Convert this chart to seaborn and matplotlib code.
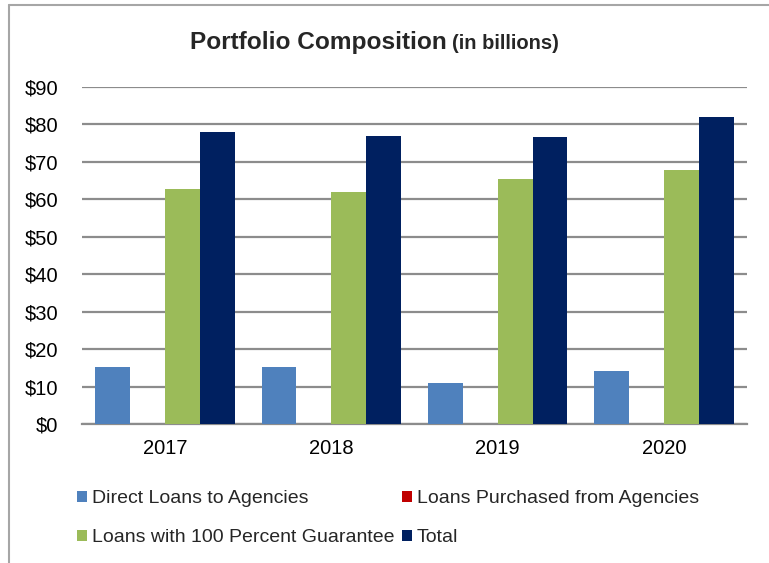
import pandas as pd
import seaborn as sns
import matplotlib.pyplot as plt
from matplotlib.lines import Line2D

years = ['2017', '2018', '2019', '2020']
direct_loans = [15.3, 15.3, 11.0, 14.2]
purchased_loans = [0.0, 0.0, 0.0, 0.0]
guarantee_loans = [62.7, 62.0, 65.4, 67.8]
total = [78.0, 77.0, 76.7, 82.0]
y_ticks = [0, 10, 20, 30, 40, 50, 60, 70, 80, 90]

series = {
    'Direct Loans to Agencies': direct_loans,
    'Loans Purchased from Agencies': purchased_loans,
    'Loans with 100 Percent Guarantee': guarantee_loans,
    'Total': total,
}
palette = {
    'Direct Loans to Agencies': '#4F81BD',
    'Loans Purchased from Agencies': '#C00000',
    'Loans with 100 Percent Guarantee': '#9BBB59',
    'Total': '#002060',
}

rows = []
for name, vals in series.items():
    for yr, v in zip(years, vals):
        rows.append({'year': yr, 'series': name, 'value': v})
df = pd.DataFrame(rows)

sns.set_style('white')
plt.rcParams['font.family'] = ['Liberation Sans', 'DejaVu Sans']

fig = plt.figure(figsize=(7.69, 5.63), dpi=100)
ax = fig.add_axes([82 / 769, 1 - 424 / 563, (747 - 82) / 769, (424 - 87) / 563])

sns.barplot(data=df, x='year', y='value', hue='series', palette=palette,
            width=0.84, saturation=1, linewidth=0, ax=ax, zorder=3)

handles = ax.get_legend().legend_handles
labels = [t.get_text() for t in ax.get_legend().get_texts()]
ax.get_legend().remove()

ax.set_ylim(0, 90)
ax.set_yticks(y_ticks)
ax.set_yticklabels([f'${v}' for v in y_ticks])
ax.set_xlabel('')
ax.set_ylabel('')
ax.yaxis.grid(True, color='#8c8c8c', linewidth=1.6, zorder=0)
ax.set_axisbelow(True)
for s in ['top', 'right', 'left']:
    ax.spines[s].set_visible(False)
ax.spines['bottom'].set_color('#8c8c8c')
ax.spines['bottom'].set_linewidth(1.6)
ax.tick_params(axis='both', length=0, labelsize=14.5, colors='black')
ax.tick_params(axis='y', pad=17)
ax.tick_params(axis='x', pad=11)

fig.text(190 / 769, 1 - 49 / 563, 'Portfolio Composition', fontsize=17.6,
         fontweight='bold', ha='left', va='baseline')
fig.text(452 / 769, 1 - 49 / 563, '(in billions)', fontsize=14.5,
         fontweight='bold', ha='left', va='baseline')

# legend fills row by row in the reference
order = [0, 2, 1, 3]
fig.legend([handles[i] for i in order], [labels[i] for i in order], ncol=2,
           loc='upper left', bbox_to_anchor=(77 / 769, 1 - 490 / 563),
           frameon=False, borderpad=0, borderaxespad=0,
           fontsize=14, handlelength=0.5, handleheight=0.5,
           handletextpad=0.26, columnspacing=0.4, labelspacing=1.14)

# border of the figure
fig.add_artist(Line2D([9 / 769, 1], [1 - 5 / 563, 1 - 5 / 563],
                      color='#a6a6a6', linewidth=1.5, transform=fig.transFigure))
fig.add_artist(Line2D([9 / 769, 9 / 769], [0, 1 - 5 / 563],
                      color='#a6a6a6', linewidth=1.5, transform=fig.transFigure))

fig.savefig('out.png', dpi=100)
